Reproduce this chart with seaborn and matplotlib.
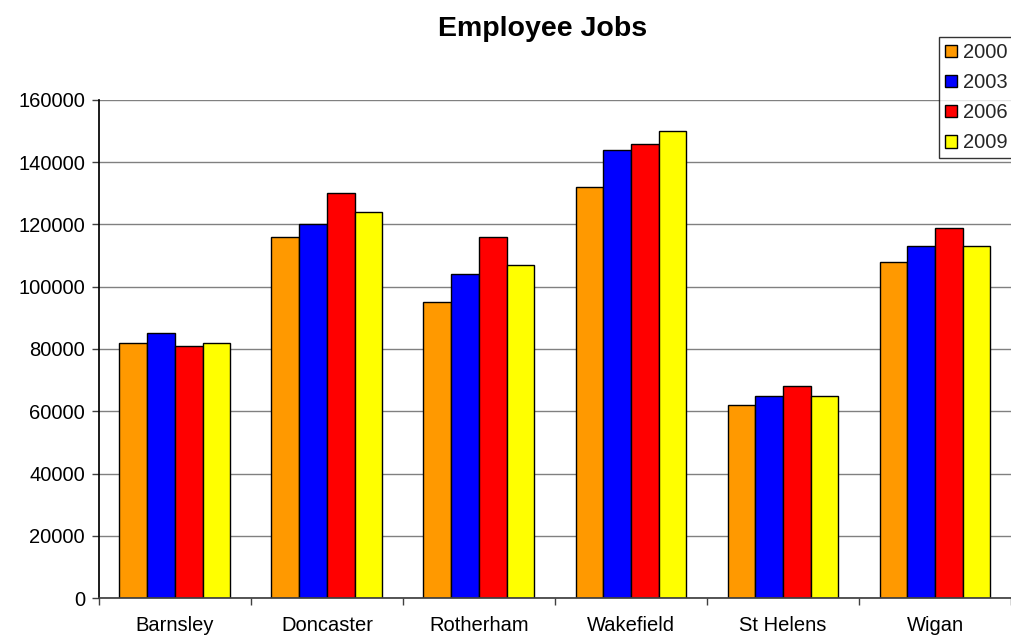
import matplotlib
matplotlib.use("Agg")
import matplotlib.pyplot as plt
from matplotlib.ticker import FixedLocator
import seaborn as sns
import pandas as pd

# Employee jobs by district and year
districts = ["Barnsley", "Doncaster", "Rotherham", "Wakefield", "St Helens", "Wigan"]
years = ["2000", "2003", "2006", "2009"]
jobs_2000 = [82000, 116000, 95000, 132000, 62000, 108000]
jobs_2003 = [85000, 120000, 104000, 144000, 65000, 113000]
jobs_2006 = [81000, 130000, 116000, 146000, 68000, 119000]
jobs_2009 = [82000, 124000, 107000, 150000, 65000, 113000]
colors = ["#FF9900", "#0000FF", "#FF0000", "#FFFF00"]

rows = []
for year, vals in zip(years, [jobs_2000, jobs_2003, jobs_2006, jobs_2009]):
    for d, v in zip(districts, vals):
        rows.append({"District": d, "Year": year, "Jobs": v})
df = pd.DataFrame(rows)

sns.set_theme(style="white")
plt.rcParams["font.family"] = ["Liberation Sans", "DejaVu Sans"]

fig = plt.figure(figsize=(10.12, 6.4), dpi=100)
ax = fig.add_axes([0.0978, 0.0656, 0.9012, 0.7782])

sns.barplot(data=df, x="District", y="Jobs", hue="Year", order=districts,
            hue_order=years, palette=colors, width=0.73, saturation=1,
            edgecolor="black", linewidth=1.0, ax=ax, legend=True)

ax.set_ylim(0, 160000)
ax.set_xlim(-0.5, 5.5)
ax.set_yticks(range(0, 160001, 20000))
ax.yaxis.grid(True, color="#808080", linewidth=1.0)
ax.set_axisbelow(True)
ax.set_xlabel("")
ax.set_ylabel("")

for side in ["top", "right"]:
    ax.spines[side].set_visible(False)
ax.spines["left"].set_color("black")
ax.spines["bottom"].set_color("#404040")

ax.tick_params(axis="y", which="major", left=True, length=5, width=1,
               color="#404040", labelsize=14.5, pad=5, labelcolor="black")
ax.tick_params(axis="x", which="major", bottom=False, labelsize=14.5,
               pad=7, labelcolor="black")
ax.xaxis.set_minor_locator(FixedLocator([i - 0.5 for i in range(7)]))
ax.tick_params(axis="x", which="minor", bottom=True, length=5, width=1,
               color="#404040")

fig.text(543 / 1012, 1 - 36 / 640, "Employee Jobs", fontsize=20.5,
         fontweight="bold", color="black", ha="center", va="baseline")

leg = ax.legend(loc="upper left", bbox_to_anchor=(939 / 1012, 1 - 37 / 640),
                bbox_transform=fig.transFigure, frameon=True,
                fancybox=False, edgecolor="black", fontsize=14.5,
                handlelength=0.6, handleheight=0.6, handletextpad=0.3,
                labelspacing=0.55, borderpad=0.3, borderaxespad=0)
leg.get_frame().set_linewidth(1.0)

fig.savefig("out.png", dpi=100)
